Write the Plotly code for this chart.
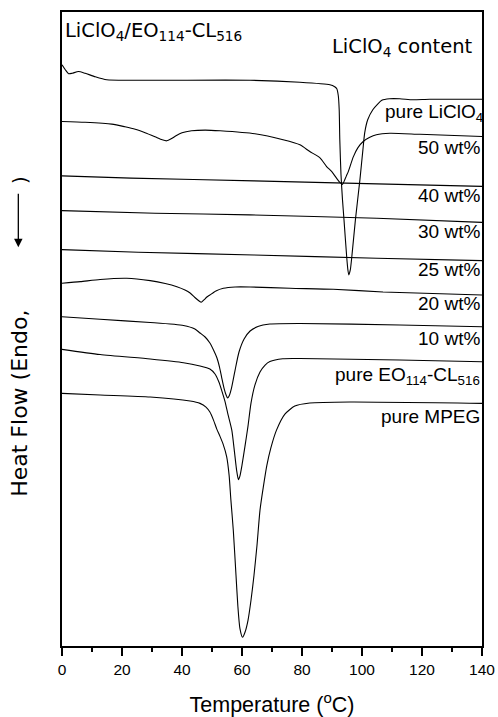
import plotly.graph_objects as go

# DSC heating curves of LiClO4 / EO114-CL516 blends (heat flow in a.u., endo down)
t_pure_liclo4 = [0, 1.1, 2.2, 3.4, 5.5, 7.7, 11.1, 14.9, 22.7, 36, 62.7, 79.3, 89.3, 90.9, 91.6, 92.1,
                 92.4, 92.6, 93.0, 93.5, 94.0, 94.9, 95.3, 95.6, 96.1, 96.6, 97.8, 99.3, 100.3, 100.9,
                 101.9, 103.6, 105.3, 106.6, 109.2, 112.6, 116.9, 122.6, 140]
hf_pure_liclo4 = [65, 70, 74, 73.5, 71.7, 73.5, 77, 80, 80.5, 80.5, 80.5, 82.5, 85, 87, 89, 96,
                  110, 140, 175, 200, 220, 257, 270, 275, 270, 257, 220, 180, 150, 133,
                  120, 110, 104, 100.5, 99, 99, 100, 99.5, 99.5]

t_50 = [0, 7.7, 16.6, 21, 24.4, 27.7, 31, 33.4, 34.9, 36.4, 38, 40, 43.2, 47.7, 52.7, 64.3, 73.7,
        79.3, 82.6, 86, 88.2, 90, 91.5, 92.6, 93.5, 94.1, 94.8, 95.4, 97.1, 98.6, 100.4, 102.6,
        104.8, 109.3, 119.3, 140]
hf_50 = [121.7, 122.5, 124.3, 127, 129.5, 133, 137, 140, 141, 139, 136, 133, 131, 130.3, 131, 134,
         140, 145, 151.7, 158, 166.7, 172, 178.3, 182.5, 184.5, 181, 176, 172, 157, 148, 141.7,
         137.5, 135, 133.5, 134.5, 136.7]

t_40 = [0, 23, 64, 105, 140]
hf_40 = [176, 178.3, 181, 184, 186.5]

t_30 = [0, 31, 62.6, 105, 140]
hf_30 = [210.7, 213.3, 215, 218.3, 222.5]

t_25 = [0, 25.4, 64, 105, 140]
hf_25 = [249.7, 252.3, 255, 258.3, 260.7]

t_20 = [0, 6.1, 12.7, 21.6, 29.4, 34.4, 38.3, 41, 42.7, 44.3, 45.7, 46.4, 47.3, 48.3, 49.3, 51.3,
        53.8, 57.7, 62.7, 76, 90.4, 107, 140]
hf_20 = [283.3, 281.7, 279.5, 278.3, 280.7, 283.5, 286.7, 290, 293, 297.5, 301, 302.3, 300, 297,
         295, 291, 288.3, 287, 287, 288.3, 289.3, 292, 295]

t_10 = [0, 12.7, 29.4, 40.5, 44.3, 46, 47.7, 49.3, 50.5, 51.6, 52.5, 53.2, 54, 54.7, 55.2, 55.7,
        56.5, 57.7, 59, 60.7, 62.7, 65.3, 69.3, 79.3, 112.6, 140]
hf_10 = [316.7, 319.3, 322.5, 325.5, 329, 333, 337, 343, 350, 357.5, 367, 377, 388, 395, 398, 396,
         388, 370, 352, 339, 331, 326.5, 324, 323.5, 325, 326.7]

t_eo_cl = [0, 12.7, 29.4, 40.5, 46, 49.3, 51, 52.3, 53.3, 54.3, 55.3, 56.6, 57.5, 58.2, 58.8, 59.3,
           60, 61, 62, 63, 64.3, 66, 67.7, 69.3, 73.6, 79.3, 112.6, 140]
hf_eo_cl = [349.3, 354.5, 359, 362.7, 366, 369, 374, 382, 391, 401, 414, 430, 452, 470, 479.5, 476,
            465, 446, 426, 403, 385, 372, 365, 361.5, 358.7, 358.5, 360, 361.7]

t_mpeg = [0, 12.7, 29.4, 42.7, 46, 48, 49.3, 50.5, 51.6, 52.7, 53.7, 54.9, 55.7, 56.3, 57.1, 58,
          58.6, 59.3, 60.2, 61, 62, 63, 64, 65, 66, 67.1, 68.3, 69.6, 71.5, 74.3, 77.6, 82.6, 96, 140]
hf_mpeg = [393.3, 395, 397, 401, 403.3, 407, 412, 420, 429, 436.5, 444, 456.7, 475, 500, 530, 575,
           605, 628, 637, 632, 620, 600, 575, 545, 510, 487, 465, 448, 430, 414, 406, 403, 402, 403.3]

series = [
    ("pure LiClO<sub>4</sub>", t_pure_liclo4, hf_pure_liclo4),
    ("50 wt%", t_50, hf_50),
    ("40 wt%", t_40, hf_40),
    ("30 wt%", t_30, hf_30),
    ("25 wt%", t_25, hf_25),
    ("20 wt%", t_20, hf_20),
    ("10 wt%", t_10, hf_10),
    ("pure EO<sub>114</sub>-CL<sub>516</sub>", t_eo_cl, hf_eo_cl),
    ("pure MPEG", t_mpeg, hf_mpeg),
]

# vertical placement of each curve's label and a small horizontal nudge
label_y = [113.5, 147.5, 196, 231.7, 270, 303.7, 338.7, 376, 416.5]
label_dx = [3, 0, 0, 0, 0, 0, 0, 0, 0]

ARIAL = "Liberation Sans, Arial, sans-serif"
WIDE = "DejaVu Sans, sans-serif"

fig = go.Figure()
for name, t, hf in series:
    fig.add_trace(go.Scatter(
        x=t, y=hf, mode="lines", name=name,
        line=dict(color="black", width=1.1, shape="spline", smoothing=0.6),
        showlegend=False, hoverinfo="skip",
    ))

annotations = []
for (name, _, _), yl, dx in zip(series, label_y, label_dx):
    annotations.append(dict(
        text=name, xref="paper", x=1, xanchor="right", xshift=dx,
        yref="y", y=yl, yanchor="middle", showarrow=False,
        font=dict(family=ARIAL, size=19, color="black"),
    ))

annotations.append(dict(
    text="LiClO<sub>4</sub>/EO<sub>114</sub>-CL<sub>516</sub>",
    xref="paper", x=0, xanchor="left", xshift=1,
    yref="y", y=31.5, yanchor="middle", showarrow=False,
    font=dict(family=WIDE, size=19.5, color="black"),
))
annotations.append(dict(
    text="LiClO<sub>4</sub> content",
    xref="paper", x=1, xanchor="right", xshift=-7,
    yref="y", y=48, yanchor="middle", showarrow=False,
    font=dict(family=WIDE, size=19.5, color="black"),
))

# y-axis title: text, a downward arrow and the closing bracket
annotations.append(dict(
    text="Heat Flow (Endo,", xref="paper", x=-0.1, xanchor="center",
    yref="paper", y=0.382, yanchor="middle", textangle=-90, showarrow=False,
    font=dict(family=WIDE, size=22, color="black"),
))
annotations.append(dict(
    text=")", xref="paper", x=-0.1, xanchor="center",
    yref="paper", y=0.735, yanchor="middle", textangle=-90, showarrow=False,
    font=dict(family=WIDE, size=20, color="black"),
))
annotations.append(dict(
    text="", xref="paper", x=-0.104, yref="paper", y=0.629,
    showarrow=True, ax=0, ay=-55, arrowhead=2, arrowsize=1.3, arrowwidth=1.3,
    arrowcolor="black", standoff=0,
))

fig.update_layout(
    width=498, height=717,
    margin=dict(l=62, r=16, t=12, b=71),
    paper_bgcolor="white", plot_bgcolor="white",
    annotations=annotations,
    font=dict(family=ARIAL, color="black"),
)

fig.update_xaxes(
    range=[0, 140], tickmode="array", tickvals=[0, 20, 40, 60, 80, 100, 120, 140],
    ticks="outside", ticklen=8, tickwidth=2, tickcolor="black",
    minor=dict(tickmode="array", tickvals=[10, 30, 50, 70, 90, 110, 130],
               ticks="outside", ticklen=4, tickwidth=2, tickcolor="black"),
    showline=True, linewidth=2, linecolor="black", mirror=True,
    showgrid=False, zeroline=False, automargin=False,
    tickfont=dict(family=ARIAL, size=15.5, color="black"),
    title=dict(text="Temperature (<sup>o</sup>C)", standoff=26,
               font=dict(family=ARIAL, size=21.5, color="black")),
)
fig.update_yaxes(
    range=[645.7, 12.3], showticklabels=False, ticks="",
    showline=True, linewidth=2, linecolor="black", mirror=True,
    showgrid=False, zeroline=False, automargin=False,
)

fig.write_html("out.html")
